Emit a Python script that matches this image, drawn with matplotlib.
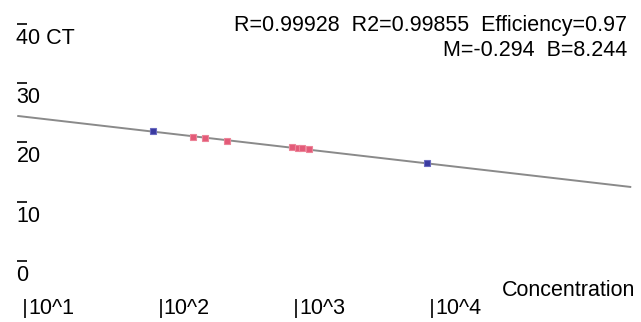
import matplotlib
matplotlib.use("Agg")
import numpy as np
from matplotlib import pyplot as plt
from matplotlib.transforms import offset_copy

# standard curve values (log10 concentration, CT)
blue_log = [1.94, 3.96]
blue_ct = [21.9, 16.5]
red_log = [2.24, 2.33, 2.49, 2.97, 3.01, 3.04, 3.09]
red_ct = [20.9, 20.8, 20.3, 19.2, 19.1, 19.1, 18.9]
fit_slope = -2.654
fit_icpt = 26.99
fit_range = [0.95, 5.46]

y_ticks = [0, 10, 20, 30, 40]
x_ticks = [1, 2, 3, 4]
x_labels = ["10^1", "10^2", "10^3", "10^4"]
stats1 = "R=0.99928  R2=0.99855  Efficiency=0.97"
stats2 = "M=-0.294  B=8.244"

FONT = ["Liberation Sans Narrow", "Liberation Sans", "DejaVu Sans"]
plt.rcParams['font.family'] = FONT

W, H = 641, 322
fig = plt.figure(figsize=(W / 100, H / 100), dpi=100)
ax = fig.add_axes([0, 0, 1, 1])
ax.set_xlim(0.8158, 5.539)
ax.set_ylim(-10.30, 44.05)
ax.axis("off")

xs = np.array(fit_range)
ax.plot(xs, fit_icpt + fit_slope * xs, color="#8a8a8a", lw=1.4, zorder=1)
ax.plot(red_log, red_ct, "s", ms=4.5, color="#e35a78", mec="#ec8498", mew=0.8, zorder=2)
ax.plot(blue_log, blue_ct, "s", ms=4.5, color="#3a3aa0", mec="#6a6ac0", mew=0.8, zorder=2)

# px helpers for x positions (figure pixels)
def px2log(p):
    return 1 + (p - 25) / 135.7

# y ticks: small overline bar with label under it
for v in y_ticks:
    ax.plot([px2log(17), px2log(27)], [v, v], color="black", lw=1.2, solid_capstyle="butt")
    lab = "40 CT" if v == 40 else str(v)
    tr = offset_copy(ax.transData, fig=fig, x=0, y=-4, units="dots")
    ax.text(px2log(16.5), v, lab, transform=tr, fontsize=15.5, va="top", ha="left")

# x ticks: short vertical bar with label next to it
ybar = [(261 - 299) / 5.925, (261 - 318) / 5.925]
for v, lab in zip(x_ticks, x_labels):
    ax.plot([v, v], ybar, color="black", lw=1.2, solid_capstyle="butt")
    ax.text(v + 3 / 135.7, (261 - 309) / 5.925, lab, fontsize=15.5, va="center", ha="left")

fig.text(627 / W, 1 - 25 / H, stats1, fontsize=15.5, ha="right", va="center")
fig.text(627 / W, 1 - 51 / H, stats2, fontsize=15.5, ha="right", va="center")
fig.text(635 / W, 1 - 291 / H, "Concentration", fontsize=15.5, ha="right", va="center")

fig.savefig("out.png", dpi=100, facecolor="white")
